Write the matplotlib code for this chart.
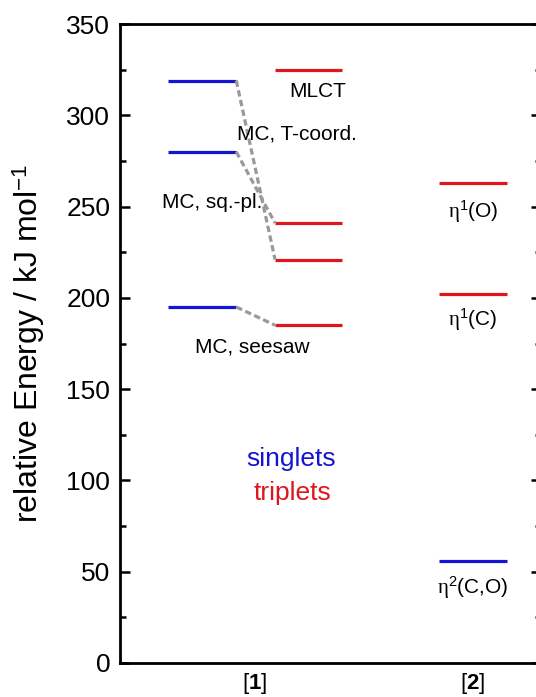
import numpy as np
import matplotlib.pyplot as plt

plt.rcParams['font.family'] = ['Liberation Sans', 'DejaVu Sans']
plt.rcParams['mathtext.fontset'] = 'custom'
plt.rcParams['mathtext.rm'] = 'Liberation Serif'
plt.rcParams['mathtext.sf'] = 'Liberation Sans'
plt.rcParams['mathtext.bf'] = 'Liberation Sans:bold'
plt.rcParams['mathtext.it'] = 'Liberation Serif:italic'

# energies (kJ/mol)
singlets_1 = [319, 280, 195]
triplets_1 = [325, 241, 221, 185]
triplets_2 = [263, 202]
singlets_2 = [56]
# dashed connections singlet -> triplet for [1]
links = [(319, 221), (280, 241), (195, 185)]

# column x-ranges
col_s1 = (0.71, 1.71)
col_t1 = (2.28, 3.26)
col_2 = (4.69, 5.69)
xtick_pos = [1.985, 5.19]
xtick_labels = ['[$\\mathbf{1}$]', '[$\\mathbf{2}$]']

blue = '#1414d2'
red = '#e0161e'

fig = plt.figure(figsize=(5.36, 6.97), dpi=100)
ax = fig.add_axes([120/536, 34/697, 421/536, 639/697])

lw = 2.3
ax.hlines(singlets_1, *col_s1, color=blue, lw=lw)
ax.hlines(triplets_1, *col_t1, color=red, lw=lw)
ax.hlines(triplets_2, *col_2, color=red, lw=lw)
ax.hlines(singlets_2, *col_2, color=blue, lw=lw)

for s, t in links:
    ax.plot([col_s1[1], col_t1[0]], [s, t], ls=(0, (2.0, 1.1)), color='#999999', lw=2.3)

fs = 15
ax.text(2.91, 313, 'MLCT', ha='center', va='center', fontsize=fs)
ax.text(2.60, 290, 'MC, T-coord.', ha='center', va='center', fontsize=fs)
ax.text(1.35, 252.5, 'MC, sq.-pl.', ha='center', va='center', fontsize=fs)
ax.text(1.94, 173, 'MC, seesaw', ha='center', va='center', fontsize=fs)
ax.text(5.19, 247, '$\\mathrm{\\eta}^{\\mathsf{1}}$(O)', ha='center', va='center', fontsize=fs)
ax.text(5.19, 188, '$\\mathrm{\\eta}^{\\mathsf{1}}$(C)', ha='center', va='center', fontsize=fs)
ax.text(5.19, 41, '$\\mathrm{\\eta}^{\\mathsf{2}}$(C,O)', ha='center', va='center', fontsize=fs)

ax.text(2.52, 112, 'singlets', ha='center', va='center', fontsize=19, color=blue)
ax.text(2.53, 93, 'triplets', ha='center', va='center', fontsize=19, color=red)

ax.set_xlim(0, 421/68)
ax.set_ylim(0, 350)
ax.set_yticks(np.arange(0, 351, 50))
ax.set_yticks(np.arange(25, 350, 50), minor=True)
ax.set_xticks(xtick_pos)
ax.set_xticklabels(xtick_labels, fontsize=16)
ax.tick_params(axis='x', length=0, pad=6)
ax.tick_params(axis='y', which='major', direction='in', length=7, width=1.8,
               labelsize=19, right=True, pad=7)
ax.tick_params(axis='y', which='minor', direction='in', length=4, width=1.8, right=True)
for sp in ax.spines.values():
    sp.set_linewidth(2)

ax.set_ylabel('relative Energy / kJ mol$^{\\mathregular{-1}}$', fontsize=23, labelpad=14)

fig.savefig('out.png', dpi=100)
